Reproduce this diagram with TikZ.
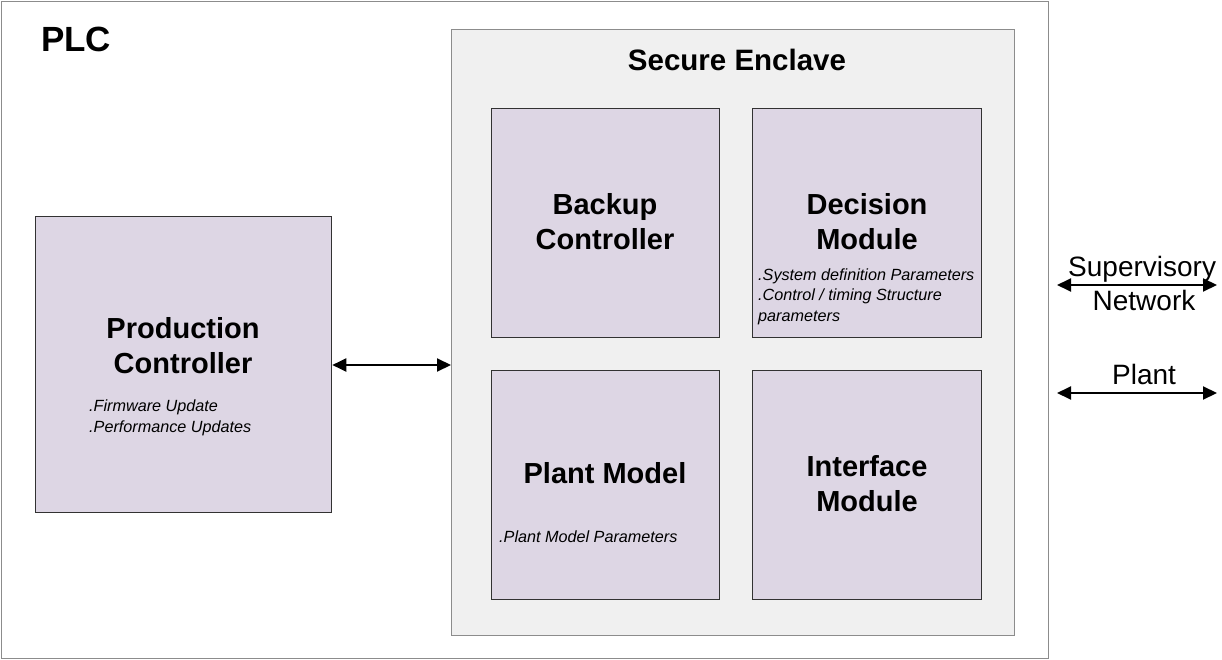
\documentclass[tikz,border=0pt]{standalone}
\usepackage{fontspec}
\setmainfont{Liberation Sans}
\usetikzlibrary{arrows.meta}
\definecolor{modfill}{RGB}{221,214,228}
\definecolor{encfill}{RGB}{240,240,240}
\definecolor{frame}{RGB}{140,140,140}
\definecolor{modline}{RGB}{50,50,50}
\tikzset{
  module/.style={draw=modline, line width=1.3pt, fill=modfill, inner sep=0pt, anchor=north west},
  title/.style={font=\fontsize{29}{35}\selectfont\bfseries, align=center, inner sep=0pt},
  notes/.style={font=\fontsize{16.2}{20.5}\selectfont\itshape, align=left, inner sep=0pt, anchor=base west},
  plain/.style={font=\fontsize{28}{33}\selectfont, inner sep=0pt},
  biarrow/.style={line width=2pt, {Triangle[length=14pt,width=13pt]}-{Triangle[length=14pt,width=13pt]}}
}
\begin{document}
\begin{tikzpicture}[x=1pt,y=-1pt]
\useasboundingbox (0,0) rectangle (1222,660);
\fill[white] (0,0) rectangle (1222,660);

% PLC outer frame
\node[draw=frame, line width=1pt, minimum width=1047pt, minimum height=657pt, inner sep=0pt, anchor=north west] (plc) at (1,1) {};
\node[font=\fontsize{35}{40}\selectfont\bfseries, inner sep=0pt, anchor=base west] (plclabel) at (41,52) {PLC};

% Secure enclave
\node[draw=frame, line width=1pt, fill=encfill, minimum width=563pt, minimum height=606pt, inner sep=0pt, anchor=north west] (enc) at (451,29) {};
\node[font=\fontsize{29.5}{35}\selectfont\bfseries, inner sep=0pt, anchor=base] (enclabel) at (737,71) {Secure Enclave};

% Production controller (multi-line nodes are placed by the baseline of their last line)
\node[module, minimum width=296pt, minimum height=296pt] (prod) at (35,216) {};
\node[title, anchor=base] (prodt) at (183,373) {Production\\Controller};
\node[notes] (prodn) at (89,432) {.Firmware Update\\.Performance Updates};

% Modules inside the enclave
\node[module, minimum width=228pt, minimum height=229pt] (backup) at (491,108) {};
\node[module, minimum width=229pt, minimum height=229pt] (decision) at (752,108) {};
\node[module, minimum width=228pt, minimum height=229pt] (plantm) at (491,370) {};
\node[module, minimum width=229pt, minimum height=229pt] (iface) at (752,370) {};

\node[title, anchor=base] (backupt) at (605,249) {Backup\\Controller};
\node[title, anchor=base] (decisiont) at (867,249) {Decision\\Module};
\node[notes] (decisionn) at (758,321) {.System definition Parameters\\.Control / timing Structure\\parameters};
\node[title, anchor=base] (plantt) at (605,483) {Plant Model};
\node[notes] (plantn) at (499,542) {.Plant Model Parameters};
\node[title, anchor=base] (ifacet) at (867,511) {Interface\\Module};

% Link between production controller and enclave
\draw[biarrow] (prod.east |- 0,365) -- (enc.west |- 0,365);

% External connections
\coordinate (supL) at (1057,285);
\coordinate (supR) at (1217,285);
\coordinate (plaL) at (1057,393);
\coordinate (plaR) at (1217,393);
\draw[biarrow] (supL) -- (supR);
\draw[biarrow] (plaL) -- (plaR);
\node[plain, anchor=base west] (sup) at (1068,276) {Supervisory};
\node[plain, anchor=base] (net) at (1144,310) {Network};
\node[plain, anchor=base] (plant) at (1144,384) {Plant};
\end{tikzpicture}
\end{document}
